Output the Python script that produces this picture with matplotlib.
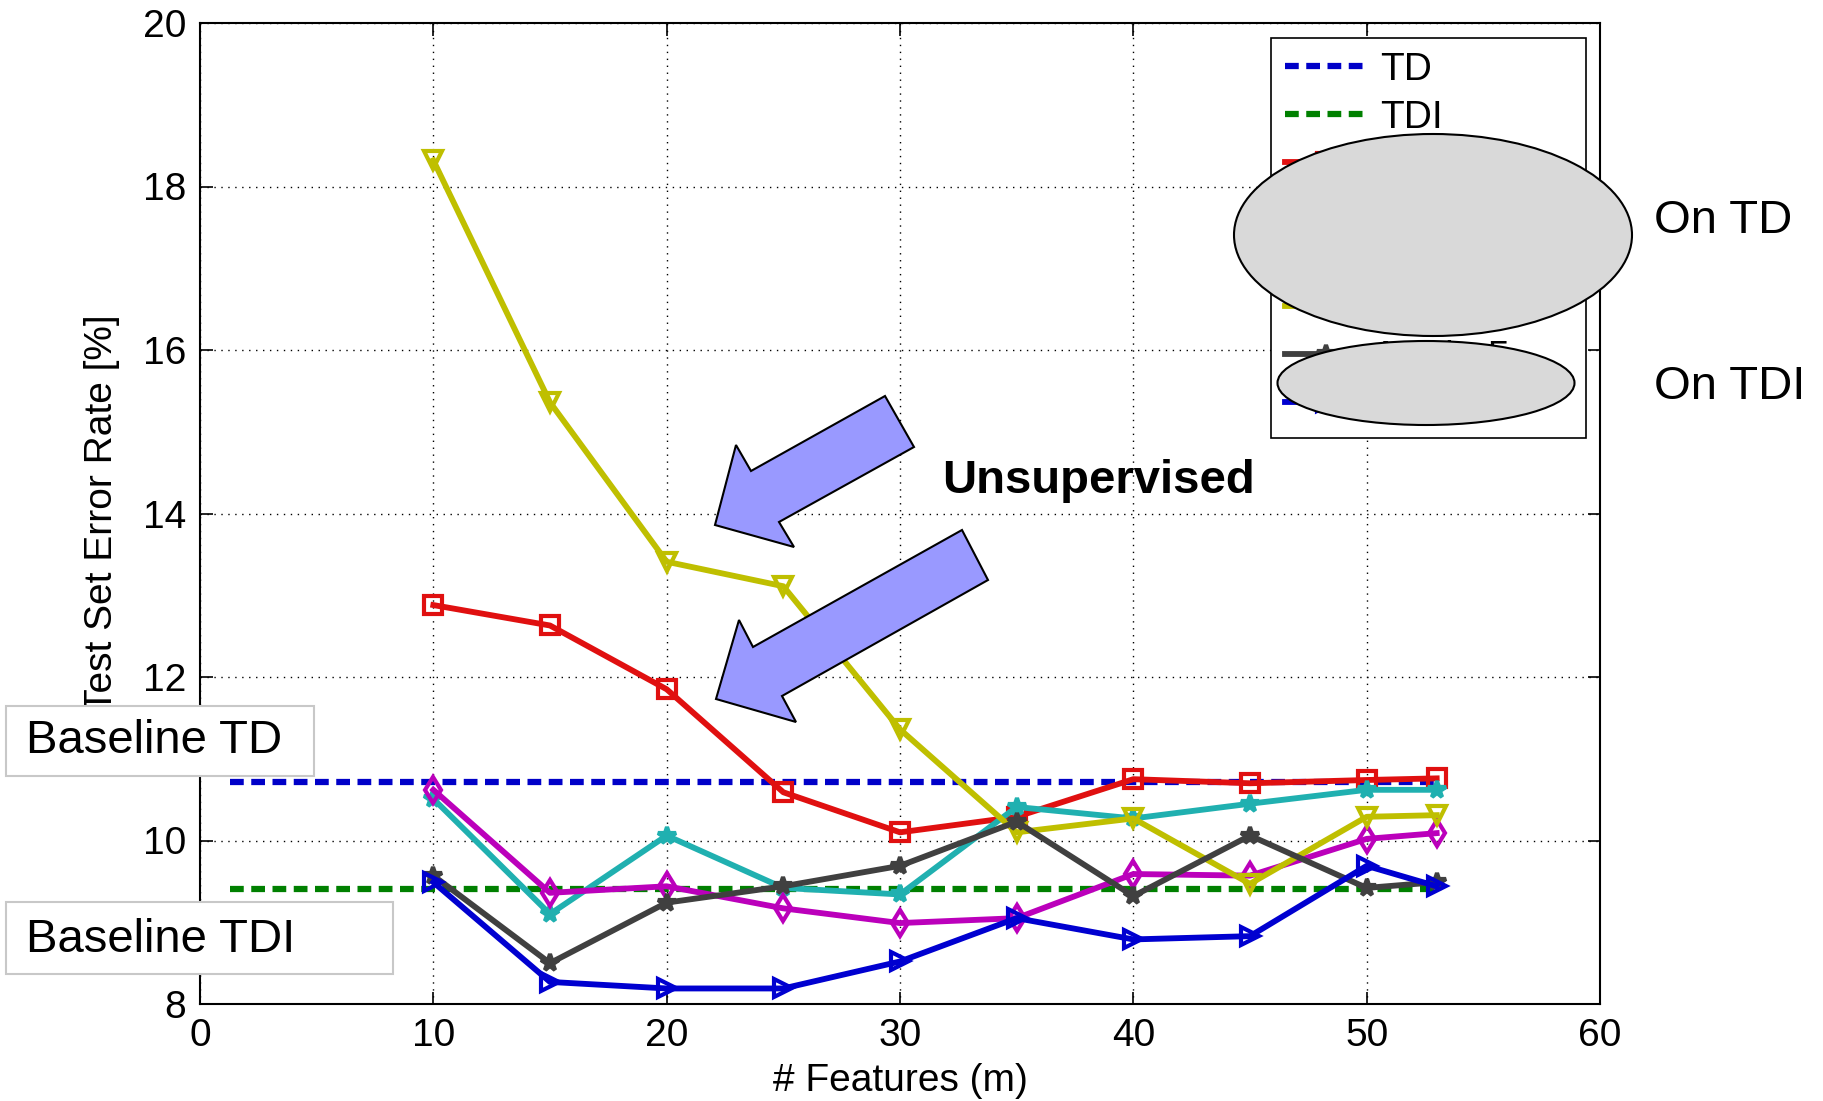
import matplotlib
matplotlib.use('Agg')
import matplotlib.pyplot as plt
from matplotlib.patches import Ellipse, Polygon, Rectangle

plt.rcParams['font.family'] = ['Liberation Sans', 'DejaVu Sans']

W, H = 1824, 1101

features = [10, 15, 20, 25, 30, 35, 40, 45, 50, 53]
baseline_x = [1.3, 53]
baseline_td = 10.72
baseline_tdi = 9.41

err_red = [12.88, 12.63, 11.85, 10.59, 10.10, 10.29, 10.75, 10.70, 10.74, 10.76]
err_cyan = [10.51, 9.10, 10.06, 9.42, 9.34, 10.41, 10.27, 10.45, 10.62, 10.62]
err_magenta = [10.62, 9.36, 9.44, 9.17, 8.99, 9.05, 9.59, 9.57, 10.02, 10.09]
err_yellow = [18.32, 15.36, 13.41, 13.11, 11.36, 10.10, 10.27, 9.47, 10.29, 10.31]
err_gray = [9.57, 8.50, 9.24, 9.44, 9.69, 10.23, 9.32, 10.06, 9.42, 9.49]
err_blue = [9.49, 8.27, 8.19, 8.19, 8.52, 9.05, 8.79, 8.83, 9.69, 9.44]

xticks = [0, 10, 20, 30, 40, 50, 60]
yticks = [8, 10, 12, 14, 16, 18, 20]


def fx(x):
    return x / W


def fy(y):
    return 1 - y / H


fig = plt.figure(figsize=(W / 100, H / 100), dpi=100)
ax = fig.add_axes([fx(200), fy(1004), fx(1600) - fx(200), fy(23) - fy(1004)])

ax.plot(baseline_x, [baseline_td] * 2, color='#0000c8', ls=(0, (2.2, 1.2)), lw=4.5, label='TD')
ax.plot(baseline_x, [baseline_tdi] * 2, color='#008000', ls=(0, (2.2, 1.2)), lw=4.5, label='TDI')

style = dict(lw=4.2, markersize=13, markeredgewidth=3)
ax.plot(features, err_red, color='#e01010', marker='s', mfc='none', label='Method 1', **style)
ax.plot(features, err_cyan, color='#20b0b0', marker='*', label='Meth. 2', **style)
ax.plot(features, err_magenta, color='#bb00bb', marker='d', mfc='none', label='Meth. 3', **style)
ax.plot(features, err_yellow, color='#bfbf00', marker='v', mfc='none', label='Meth. 4', **style)
ax.plot(features, err_gray, color='#404040', marker='*', label='Meth. 5', **style)
ax.plot(features, err_blue, color='#0000d0', marker='>', mfc='none', label='Meth. 6', **style)

ax.set_xlim(0, 60)
ax.set_ylim(8, 20)
ax.set_xticks(xticks)
ax.set_yticks(yticks)
ax.tick_params(direction='in', length=9, width=1.2, labelsize=28, pad=10,
               top=True, right=True)
ax.grid(True, color='black', ls=(0, (1, 4)), lw=1)
for s in ax.spines.values():
    s.set_linewidth(1.5)

ax.set_xlabel('# Features (m)', fontsize=28)
ax.set_ylabel('Test Set Error Rate [%]', fontsize=28)
ax.xaxis.set_label_coords(0.5, -0.06)
ax.yaxis.set_label_coords(-0.057, 0.5)

leg = ax.legend(loc='upper left',
                bbox_to_anchor=(fx(1271), fy(434), (1586 - 1271) / W, (434 - 38) / H),
                bbox_transform=fig.transFigure, borderaxespad=0, mode='expand',
                fontsize=28, labelspacing=0.31, handlelength=2.15,
                handletextpad=0.3, borderpad=0.35, fancybox=False,
                framealpha=1, edgecolor='black')
leg.get_frame().set_linewidth(1.2)

# overlays drawn on top of the figure
fig.add_artist(Ellipse((fx(1433), fy(235)), 398 / W, 202 / H, transform=fig.transFigure,
                       fc='#d9d9d9', ec='black', lw=1.5, zorder=5))
fig.add_artist(Ellipse((fx(1426), fy(383)), 297 / W, 84 / H, transform=fig.transFigure,
                       fc='#d9d9d9', ec='black', lw=1.5, zorder=5))
fig.text(fx(1654), fy(221), 'On TD', fontsize=34, va='center', ha='left', zorder=6)
fig.text(fx(1654), fy(387), 'On TDI', fontsize=34, va='center', ha='left', zorder=6)

arrow1 = [(715, 525), (736, 445), (751, 471), (885, 396), (914, 447), (779, 522), (794, 547)]
arrow2 = [(716, 699), (739, 620), (753, 647), (962, 530), (988, 580), (782, 696), (796, 722)]
for pts in (arrow1, arrow2):
    fig.add_artist(Polygon([(fx(x), fy(y)) for x, y in pts], closed=True,
                           transform=fig.transFigure, fc='#9999ff', ec='black',
                           lw=1.5, zorder=5))
fig.text(fx(942), fy(481), 'Unsupervised', fontsize=34, fontweight='bold',
         va='center', ha='left', zorder=6)

for (x0, y0, x1, y1), label, ty in [((6, 706, 314, 776), 'Baseline TD', 741),
                                    ((6, 902, 393, 974), 'Baseline TDI', 940)]:
    fig.add_artist(Rectangle((fx(x0), fy(y1)), (x1 - x0) / W, (y1 - y0) / H,
                             transform=fig.transFigure, fc='white', ec='#c8c8c8',
                             lw=1.5, zorder=5))
    fig.text(fx(26), fy(ty), label, fontsize=34, va='center', ha='left', zorder=6)

fig.savefig('out.png', dpi=100)
